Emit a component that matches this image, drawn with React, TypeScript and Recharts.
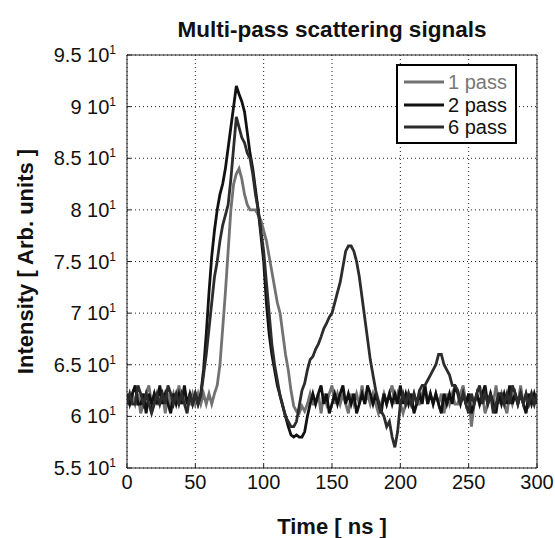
import React from "react";
import { LineChart, Line, XAxis, YAxis, CartesianGrid } from "recharts";

if (typeof document !== "undefined") {
  document.body.style.margin = "0";
}

// time grid (ns), 2 ns sampling
const timeNs: number[] = Array.from({ length: 151 }, (_, i) => i * 2);

const pass1: number[] = [
  61.2, 61.2, 62.2, 61.2, 62.2, 60.3, 61.2, 62.2, 63.0, 61.2,
  62.2, 61.2, 61.2, 62.2, 60.3, 62.2, 61.2, 62.2, 61.2, 63.0,
  61.2, 62.2, 61.2, 61.2, 62.2, 61.2, 62.2,
  61.2, 62.2, 61.2, 62.2, 61.2, 62.2, 63, 65, 68.5, 72,
  76, 80, 82.5, 83.5, 84, 83, 81.5, 80.5, 80, 80,
  80, 79.5, 79, 78, 77, 75.5, 74, 72.5, 71, 70,
  68, 66, 64.5, 62.5, 61, 60.5, 60.3, 61, 60.5, 61.2,
  62.2, 61.2, 61.2, 62.2, 60.3, 62.2, 61.2, 62.2, 63.0, 61.2,
  62.2, 61.2, 62.2, 61.2, 60.3, 62.2, 61.2, 62.2, 61.2, 63.0,
  61.2, 62.2, 61.2, 62.2, 61.2, 60.3, 61.2, 62.2, 61.2, 62.2,
  63.0, 61.2, 62.2, 61.2, 60.3, 61.2, 62.2, 61.2, 62.2, 61.2,
  61.2, 62.2, 63.0, 61.2, 62.2, 61.2, 62.2, 61.2, 62.2, 60.3,
  62.2, 61.2, 62.2, 61.2, 61.2, 62.2, 63.0, 61.2, 62.2, 59,
  61.2, 62.2, 61.2, 62.2, 60.3, 61.2, 62.2, 61.2, 63.0, 61.2,
  62.2, 61.2, 60.3, 62.2, 61.2, 62.2, 61.2, 63.0, 61.2, 62.2,
  61.2, 62.2, 61.2, 62.2,
];

const pass2: number[] = [
  62.2, 61.2, 62.2, 63.0, 61.2, 61.2, 62.2, 60.3, 62.2, 61.2,
  62.2, 61.2, 63.0, 61.2, 62.2, 61.2, 60.3, 62.2, 61.2, 62.2,
  61.2, 63.0, 61.2, 62.2, 61.2, 62.2, 61.2,
  62.2, 64.5, 68, 72, 75.5, 78, 80, 81.5, 82.5, 84,
  86, 88, 90, 92, 91.2, 90.5, 89.5, 87.5, 85.5, 84,
  82, 80, 77.5, 75, 71, 68, 66, 64.5, 63, 62,
  61, 60, 59, 58.2, 58, 58.2, 58, 58, 58.5, 60,
  61.2, 62.2, 61.2, 62.2, 63.0, 61.2, 62.2, 60.3, 61.2, 62.2,
  61.2, 62.2, 63.0, 61.2, 62.2, 61.2, 62.2, 60.3, 61.2, 62.2,
  61.2, 63.0, 62.2, 61.2, 62.2, 61.2, 60.3, 62.2, 61.2, 62.2,
  61.2, 62.2, 61.2, 63.0, 61.2, 62.2, 61.2, 62.2, 60.3, 61.2,
  62.2, 61.2, 63.0, 61.2, 62.2, 61.2, 62.2, 61.2, 60.3, 62.2,
  61.2, 62.2, 61.2, 63.0, 62.2, 61.2, 62.2, 61.2, 62.2, 60.3,
  61.2, 62.2, 61.2, 62.2, 63.0, 61.2, 62.2, 61.2, 60.3, 62.2,
  61.2, 62.2, 61.2, 63.0, 61.2, 62.2, 61.2, 62.2, 61.2, 60.3,
  62.2, 61.2, 62.2, 61.2,
];

const pass6: number[] = [
  61.2, 62.2, 61.2, 61.2, 63.0, 62.2, 61.2, 62.2, 61.2, 60.3,
  61.2, 62.2, 61.2, 62.2, 61.2, 63.0, 62.2, 61.2, 62.2, 61.2,
  62.2, 61.2, 60.3, 62.2, 61.2, 62.2, 61.2,
  62, 64, 66, 68.5, 71, 73.5, 75, 77, 78.5, 79.5,
  80.5, 83, 86, 89, 88, 87, 86.5, 85.5, 85, 83.5,
  81.5, 80, 78, 76, 73, 70, 67, 65, 63.5, 62,
  61, 60, 59.5, 59, 59, 59.5, 61, 62.5, 63.2, 64.5,
  65.5, 65.8, 66.5, 67, 67.7, 68.5, 69, 69.6, 70, 71,
  72, 73, 74.5, 76, 76.5, 76.5, 76, 75, 73.5, 71.5,
  69.5, 67.5, 65.5, 64, 62.5, 61.5, 60.5, 60, 59, 59.5,
  58, 57, 58.5, 61.2, 62.2, 61.2, 62.2, 61.2, 62.2, 61.2,
  62.5, 63, 63, 63.5, 64, 64.5, 65, 66, 66, 65,
  64.5, 64, 63, 63, 62.5, 61.2, 62.2, 61.2, 60.3, 62.2,
  61.2, 62.2, 63.0, 61.2, 62.2, 61.2, 62.2, 60.3, 61.2, 62.2,
  62.2, 61.2, 62.2, 61.2, 63.0, 62.2, 61.2, 62.2, 61.2, 62.2,
  61.2, 62.2, 61.2, 62.2,
];

const xTicks: number[] = [0, 50, 100, 150, 200, 250, 300];
const yTicks: number[] = [55, 60, 65, 70, 75, 80, 85, 90, 95];
const seriesNames: string[] = ["1 pass", "2 pass", "6 pass"];
const seriesColors: string[] = ["#727272", "#111111", "#2c2c2c"];
const legendTextColors: string[] = ["#777777", "#111111", "#111111"];

const data = timeNs.map((t, i) => ({ t, p1: pass1[i], p2: pass2[i], p6: pass6[i] }));

const FONT = "'Liberation Sans', Arial, Helvetica, sans-serif";

const YTick = (props: any) => {
  const { x, y, payload } = props;
  const v = payload.value / 10;
  return (
    <text x={x} y={y} dy="0.35em" textAnchor="end" fontFamily={FONT} fontSize={20} fill="#111">
      <tspan>{`${v} 10`}</tspan>
      <tspan dy={-8} fontSize={12}>1</tspan>
    </text>
  );
};

const XTick = (props: any) => {
  const { x, y, payload } = props;
  return (
    <text x={x} y={y} dy="0.35em" textAnchor="middle" fontFamily={FONT} fontSize={20} fill="#111">
      {payload.value}
    </text>
  );
};

const LegendBox = () => (
  <div
    style={{
      position: "absolute",
      left: 396,
      top: 64,
      border: "2px solid #000",
      background: "#fff",
      width: 117,
      height: 71,
      paddingTop: 5,
      boxSizing: "content-box",
      fontFamily: FONT,
      fontSize: 20,
    }}
  >
    {seriesNames.map((name, i) => (
      <div key={name} style={{ display: "flex", alignItems: "center", height: 22.5 }}>
        <svg width={50} height={10} style={{ display: "block" }}>
          <line x1={6} x2={46} y1={5} y2={5} stroke={seriesColors[i]} strokeWidth={3} />
        </svg>
        <span style={{ color: legendTextColors[i], lineHeight: "22px" }}>{name}</span>
      </div>
    ))}
  </div>
);

export default function App() {
  return (
    <div style={{ position: "relative", width: 555, height: 538, fontFamily: FONT }}>
      <LineChart width={555} height={538} data={data} margin={{ top: 0, right: 0, bottom: 0, left: 0 }}>
        <CartesianGrid stroke="#222" strokeDasharray="1 3" strokeWidth={1} />
        <XAxis
          dataKey="t"
          type="number"
          domain={[0, 300]}
          ticks={xTicks}
          height={70}
          axisLine={{ stroke: "#222", strokeWidth: 1 }}
          tickLine={{ stroke: "#222" }}
          tickSize={-4}
          tickMargin={18}
          tick={<XTick />}
          interval={0}
          allowDataOverflow
          label={(p: any) => {
            const vb = p.viewBox;
            return (
              <text x={vb.x + vb.width / 2} y={vb.y + 66} textAnchor="middle" fontFamily={FONT} fontSize={22} fontWeight="bold" fill="#111">
                Time [ ns ]
              </text>
            );
          }}
        />
        <XAxis
          xAxisId="top"
          orientation="top"
          dataKey="t"
          type="number"
          domain={[0, 300]}
          ticks={xTicks}
          height={55}
          axisLine={{ stroke: "#222", strokeWidth: 1 }}
          tickLine={{ stroke: "#222" }}
          tickSize={-4}
          tick={false}
          interval={0}
          allowDataOverflow
          label={(p: any) => {
            const vb = p.viewBox;
            return (
              <text x={vb.x + vb.width / 2} y={37} textAnchor="middle" fontFamily={FONT} fontSize={22.5} fontWeight="bold" fill="#111">
                Multi-pass scattering signals
              </text>
            );
          }}
        />
        <YAxis
          type="number"
          domain={[55, 95]}
          ticks={yTicks}
          width={127}
          axisLine={{ stroke: "#222", strokeWidth: 1 }}
          tickLine={{ stroke: "#222" }}
          tickSize={-4}
          tickMargin={15}
          tick={<YTick />}
          interval={0}
          allowDataOverflow
          label={(p: any) => {
            const vb = p.viewBox;
            const cy = vb.y + vb.height / 2;
            return (
              <text x={33} y={cy} transform={`rotate(-90, 33, ${cy})`} textAnchor="middle" fontFamily={FONT} fontSize={22} fontWeight="bold" fill="#111">
                Intensity [ Arb. units ]
              </text>
            );
          }}
        />
        <YAxis
          yAxisId="right"
          orientation="right"
          type="number"
          domain={[55, 95]}
          ticks={yTicks}
          width={18}
          axisLine={{ stroke: "#222", strokeWidth: 1 }}
          tickLine={{ stroke: "#222" }}
          tickSize={-4}
          tick={false}
          interval={0}
          allowDataOverflow
        />
        <Line dataKey="p1" name={seriesNames[0]} stroke={seriesColors[0]} strokeWidth={2.8} dot={false} isAnimationActive={false} type="linear" />
        <Line dataKey="p2" name={seriesNames[1]} stroke={seriesColors[1]} strokeWidth={2.8} dot={false} isAnimationActive={false} type="linear" />
        <Line dataKey="p6" name={seriesNames[2]} stroke={seriesColors[2]} strokeWidth={2.8} dot={false} isAnimationActive={false} type="linear" />
      </LineChart>
      <LegendBox />
    </div>
  );
}
